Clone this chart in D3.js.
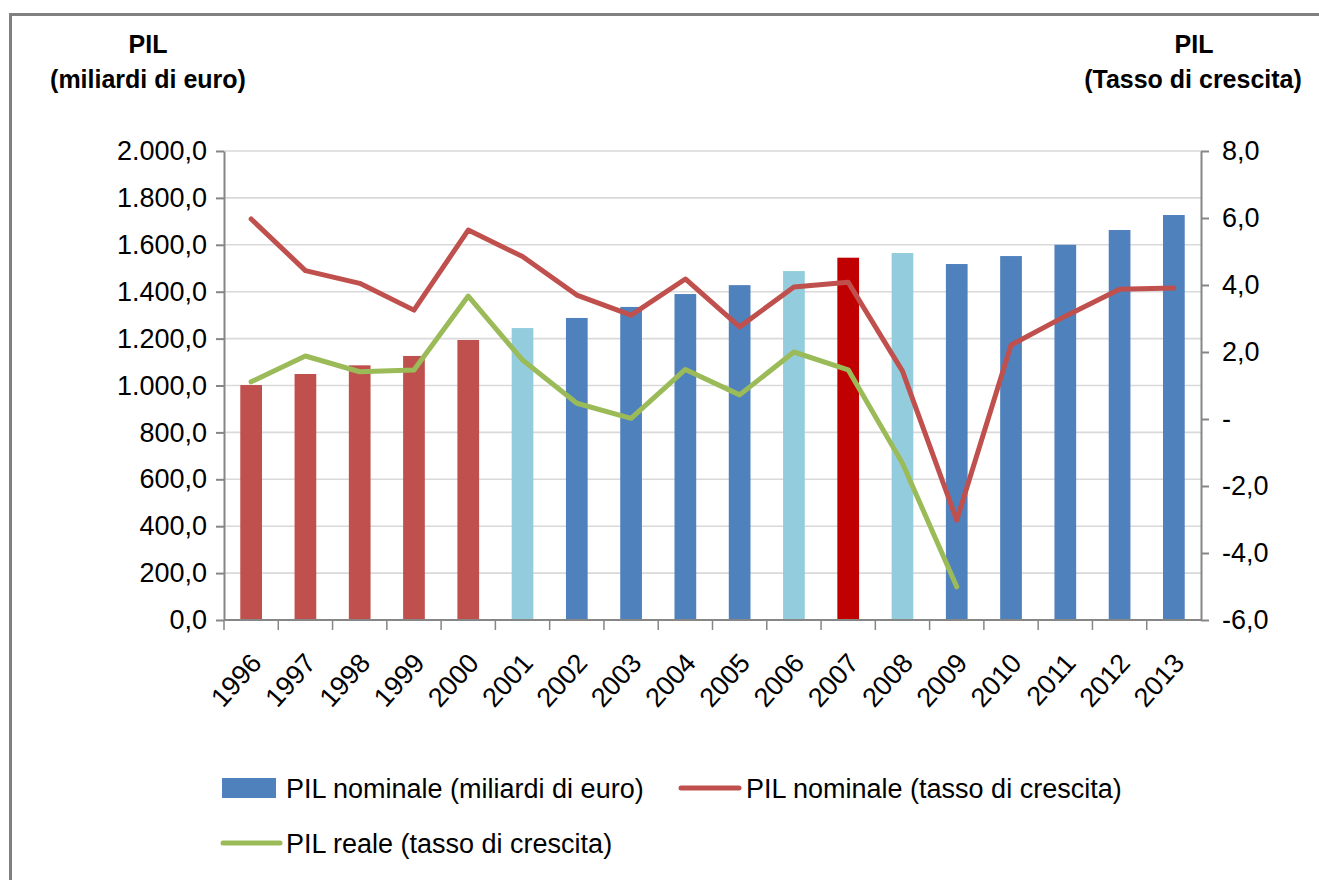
<!DOCTYPE html>
<html>
<head>
<meta charset="utf-8">
<script src="https://cdn.jsdelivr.net/npm/d3@7"></script>
<style>
  body { margin: 0; background: #fff; overflow: hidden; }
  svg { display: block; }
  svg text { font-family: "Liberation Sans", Arial, sans-serif; fill: #000; }
</style>
</head>
<body>
<div id="chart"></div>
<script>
// PIL Italia 1996-2013: barre (miliardi) + tassi di crescita

const width = 1319,
    height = 880,
    margin = ({ top: 151, right: 118, bottom: 260, left: 224 });

const years = ["1996","1997","1998","1999","2000","2001","2002","2003","2004",
               "2005","2006","2007","2008","2009","2010","2011","2012","2013"];
const pilNominale = [1002, 1049, 1086, 1126, 1194, 1245, 1288, 1335, 1390,
                     1428, 1488, 1545, 1565, 1518, 1552, 1600, 1663, 1727];
// gruppo di colore delle barre
const barKind = ["r","r","r","r","r","c","b","b","b","b","c","d","c","b","b","b","b","b"];
const crescitaNominale = [5.97, 4.43, 4.05, 3.25, 5.64, 4.85, 3.70, 3.10, 4.18,
                          2.75, 3.94, 4.08, 1.43, -3.02, 2.21, 3.07, 3.87, 3.91];
const crescitaReale = [1.11, 1.88, 1.41, 1.46, 3.67, 1.76, 0.47, 0.02, 1.48,
                       0.72, 2.00, 1.47, -1.32, -5.01];
const leftTicks = [0, 200, 400, 600, 800, 1000, 1200, 1400, 1600, 1800, 2000];
const rightTicks = [-6, -4, -2, 0, 2, 4, 6, 8];

const svg = d3.select("#chart")
    .append("svg")
    .attr("width", width)
    .attr("height", height);

// cornice grigia (solo lato sinistro e superiore visibili)
svg.append("path")
    .attr("d", `M10.5,${height} V14.5 H${width}`)
    .attr("fill", "none")
    .attr("stroke", "#808080")
    .attr("stroke-width", 3);

const it = d3.formatLocale({ decimal: ",", thousands: ".", grouping: [3], currency: ["€", ""], minus: "-" });
const fmtL = it.format(",.1f");
const fmtR = d => d === 0 ? "-" : it.format(".1f")(d);

const x = d3.scaleBand()
    .domain(years)
    .range([margin.left, width - margin.right])
    .paddingInner(0.6)
    .paddingOuter(0.3);

const yL = d3.scaleLinear()
    .domain([0, 2000])
    .range([height - margin.bottom, margin.top]);

const yR = d3.scaleLinear()
    .domain([-6, 8])
    .range([height - margin.bottom, margin.top]);

const color = d3.scaleOrdinal()
    .domain(["r", "c", "b", "d"])
    .range(["#C0504D", "#93CDDD", "#4F81BD", "#C00000"]);

// griglia
svg.append("g")
    .selectAll("line")
    .data(leftTicks.slice(1))
    .join("line")
    .attr("x1", margin.left).attr("x2", width - margin.right)
    .attr("y1", d => yL(d)).attr("y2", d => yL(d))
    .attr("stroke", "#d9d9d9")
    .attr("stroke-width", 1.6);

// barre
svg.append("g")
    .selectAll("rect")
    .data(years)
    .join("rect")
    .attr("x", d => x(d))
    .attr("y", (d, i) => yL(pilNominale[i]))
    .attr("width", x.bandwidth())
    .attr("height", (d, i) => yL(0) - yL(pilNominale[i]))
    .attr("fill", (d, i) => color(barKind[i]));

// assi
const axisColor = "#868686";
function styleAxis(g) {
    g.select(".domain").attr("stroke", axisColor).attr("stroke-width", 2);
    g.selectAll(".tick line").attr("stroke", axisColor).attr("stroke-width", 2);
    g.selectAll(".tick text")
        .style("font-family", '"Liberation Sans", Arial, sans-serif')
        .style("font-size", "27px")
        .attr("fill", "#000");
}

svg.append("g")
    .attr("transform", `translate(${margin.left},0)`)
    .call(d3.axisLeft(yL).tickValues(leftTicks).tickFormat(fmtL).tickSize(8).tickPadding(9).tickSizeOuter(0))
    .call(styleAxis);

svg.append("g")
    .attr("transform", `translate(${width - margin.right},0)`)
    .call(d3.axisRight(yR).tickValues(rightTicks).tickFormat(fmtR).tickSize(8).tickPadding(13).tickSizeOuter(0))
    .call(styleAxis);

// asse x: tacche ai bordi delle categorie
const xAxis = svg.append("g")
    .attr("transform", `translate(0,${yL(0)})`);
xAxis.append("line")
    .attr("x1", margin.left).attr("x2", width - margin.right)
    .attr("stroke", axisColor).attr("stroke-width", 2);
xAxis.selectAll(".xt")
    .data(years)
    .join("line")
    .attr("class", "xt")
    .attr("x1", d => x(d) - x.step() * x.paddingInner() / 2)
    .attr("x2", d => x(d) - x.step() * x.paddingInner() / 2)
    .attr("y1", 0).attr("y2", 10)
    .attr("stroke", axisColor).attr("stroke-width", 1.5);
xAxis.selectAll("text")
    .data(years)
    .join("text")
    .attr("text-anchor", "end")
    .attr("transform", d => `translate(${x(d) + x.bandwidth() / 2 + 12},${44}) rotate(-48)`)
    .style("font-size", "27px")
    .text(d => d);

// linee
const cx = d => x(d) + x.bandwidth() / 2;
const line = d3.line().x(d => cx(d[0])).y(d => yR(d[1]));

svg.append("path")
    .datum(years.map((d, i) => [d, crescitaNominale[i]]))
    .attr("d", line)
    .attr("fill", "none")
    .attr("stroke", "#C0504D")
    .attr("stroke-width", 5)
    .attr("stroke-linejoin", "round")
    .attr("stroke-linecap", "round");

svg.append("path")
    .datum(crescitaReale.map((v, i) => [years[i], v]))
    .attr("d", line)
    .attr("fill", "none")
    .attr("stroke", "#9BBB59")
    .attr("stroke-width", 5)
    .attr("stroke-linejoin", "round")
    .attr("stroke-linecap", "round");

// titoli assi
const titles = svg.append("g")
    .style("font-weight", "bold")
    .style("font-size", "25px")
    .attr("text-anchor", "middle");
titles.append("text").attr("x", 148).attr("y", 53).text("PIL");
titles.append("text").attr("x", 148).attr("y", 88).text("(miliardi di euro)");
titles.append("text").attr("x", 1194).attr("y", 53).text("PIL");
titles.append("text").attr("x", 1193).attr("y", 88).text("(Tasso di crescita)");

// legenda
const legend = svg.append("g").style("font-size", "27px");
legend.append("rect")
    .attr("x", 222).attr("y", 778).attr("width", 54).attr("height", 20)
    .attr("fill", "#4F81BD");
legend.append("text").attr("x", 286).attr("y", 798).text("PIL nominale (miliardi di euro)");
legend.append("line")
    .attr("x1", 681).attr("x2", 739).attr("y1", 788).attr("y2", 788)
    .attr("stroke", "#C0504D").attr("stroke-width", 5).attr("stroke-linecap", "round");
legend.append("text").attr("x", 746).attr("y", 798).text("PIL nominale (tasso di crescita)");
legend.append("line")
    .attr("x1", 223).attr("x2", 280).attr("y1", 843).attr("y2", 843)
    .attr("stroke", "#9BBB59").attr("stroke-width", 5).attr("stroke-linecap", "round");
legend.append("text").attr("x", 286).attr("y", 853).text("PIL reale (tasso di crescita)");
</script>
</body>
</html>
